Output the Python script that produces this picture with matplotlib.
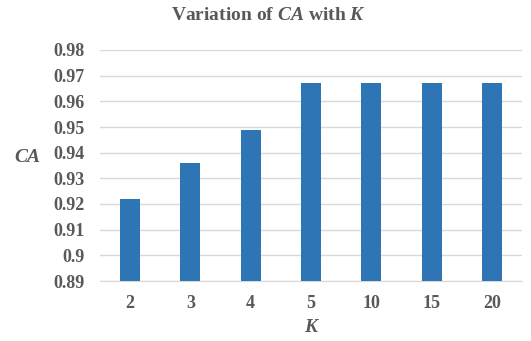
import matplotlib
matplotlib.use("Agg")
import matplotlib.pyplot as plt

k_labels = ["2", "3", "4", "5", "10", "15", "20"]
ca_values = [0.922, 0.936, 0.949, 0.967, 0.967, 0.967, 0.967]
y_ticks = [0.89, 0.90, 0.91, 0.92, 0.93, 0.94, 0.95, 0.96, 0.97, 0.98]
y_tick_labels = ["0.89", "0.9", "0.91", "0.92", "0.93", "0.94", "0.95", "0.96", "0.97", "0.98"]

text_color = "#595959"
plt.rcParams["font.family"] = ["Liberation Serif", "DejaVu Serif"]
plt.rcParams["mathtext.fontset"] = "custom"
plt.rcParams["mathtext.rm"] = "Liberation Serif:bold"
plt.rcParams["mathtext.it"] = "Liberation Serif:italic:bold"
plt.rcParams["mathtext.bf"] = "Liberation Serif:bold"

fig = plt.figure(figsize=(5.31, 3.41), dpi=100)
ax = fig.add_axes([100 / 531, 60 / 341, 422 / 531, 231 / 341])

x = range(len(k_labels))
ax.bar(x, [v - 0.89 for v in ca_values], bottom=0.89, width=0.33, color="#2e75b6", zorder=3)

ax.set_ylim(0.89, 0.98)
ax.set_xlim(-0.5, len(k_labels) - 0.5)
ax.set_yticks(y_ticks)
ax.set_yticklabels(y_tick_labels)
ax.set_xticks(list(x))
ax.set_xticklabels(k_labels)
ax.grid(axis="y", color="#d9d9d9", linewidth=1, zorder=0)
for side in ["top", "right", "left"]:
    ax.spines[side].set_visible(False)
ax.spines["bottom"].set_color("#d9d9d9")
ax.tick_params(axis="both", length=0, labelsize=13, labelcolor=text_color)
ax.tick_params(axis="y", pad=11)
ax.tick_params(axis="x", pad=10)
for lbl in ax.get_xticklabels() + ax.get_yticklabels():
    lbl.set_fontweight("bold")

fig.text(268 / 531, 1 - 16 / 341, "Variation of $\\mathit{CA}$ with $\\mathit{K}$",
         ha="center", va="center", fontsize=14, fontweight="bold", color=text_color)
fig.text(27 / 531, 1 - 157 / 341, "CA", ha="center", va="center", fontsize=14,
         fontweight="bold", fontstyle="italic", color=text_color)
fig.text(0.5 * (100 + 522) / 531, 1 - 328 / 341, "K", ha="center", va="center", fontsize=14,
         fontweight="bold", fontstyle="italic", color=text_color)

fig.savefig("out.png", dpi=100)
